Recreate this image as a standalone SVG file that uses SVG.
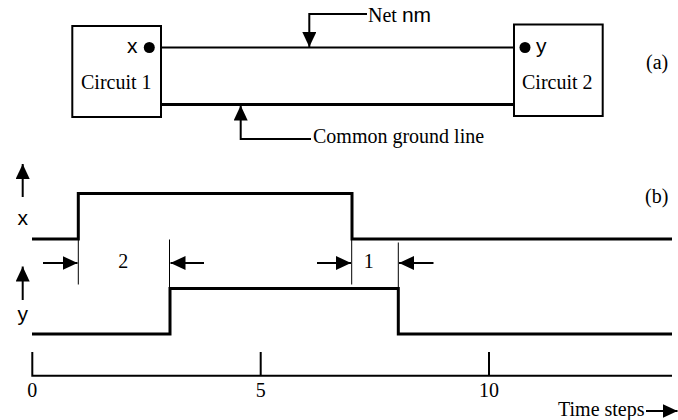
<svg xmlns="http://www.w3.org/2000/svg" width="678" height="420" viewBox="0 0 678 420">
<style>
.serif{font-family:"Liberation Serif","Times New Roman",serif;font-size:20px;fill:#000}
.sans{font-family:"Liberation Sans",Arial,sans-serif;font-size:21px;fill:#000}
.box{fill:#fff;stroke:#000;stroke-width:2}
.ln{fill:none;stroke:#000;stroke-width:2}
.sig{fill:none;stroke:#000;stroke-width:3;stroke-linejoin:miter}
.thin{fill:none;stroke:#000;stroke-width:1}
</style>
<defs>
<marker id="ah" viewBox="0 0 15 14" refX="15" refY="7" markerWidth="15" markerHeight="14" markerUnits="userSpaceOnUse" orient="auto">
<path d="M0,0 L15,7 L0,14 z" fill="#000"/>
</marker>
</defs>
<rect width="678" height="420" fill="#fff"/>
<g id="connectors">
<path class="ln" d="M149,47.5 H525"/>
<path d="M161,104.5 H514" fill="none" stroke="#000" stroke-width="3"/>
<path class="ln" d="M367,14 H309.3 V47" marker-end="url(#ah)"/>
<path class="ln" d="M311,139 H240.7 V105.5" marker-end="url(#ah)"/>
</g>
<g id="circuit1">
<rect class="box" x="72.3" y="26" width="88.7" height="91"/>
<circle cx="149.3" cy="47.5" r="5.5" fill="#000"/>
<text class="sans" x="137.5" y="53" text-anchor="end">x</text>
<text class="serif" x="81" y="89">Circuit 1</text>
</g>
<g id="circuit2">
<rect class="box" x="514" y="24.5" width="88.7" height="91.5"/>
<circle cx="525" cy="47.5" r="5.5" fill="#000"/>
<text class="sans" x="536" y="53">y</text>
<text class="serif" x="522" y="89">Circuit 2</text>
</g>
<g id="labels-a">
<text class="serif" x="368" y="22">Net <tspan class="sans" font-size="20">nm</tspan></text>
<text class="serif" x="313" y="143">Common ground line</text>
<text class="serif" x="646" y="69">(a)</text>
</g>
<g id="timing">
<path class="ln" d="M22.7,197 V164" marker-end="url(#ah)"/>
<path class="ln" d="M22.7,300 V266.5" marker-end="url(#ah)"/>
<text class="sans" x="22.7" y="225" text-anchor="middle">x</text>
<text class="sans" x="22.7" y="321" text-anchor="middle">y</text>
<path class="sig" d="M32,239 H78.3 V193.5 H352 V239 H672"/>
<path class="sig" d="M32,334 H170 V288.5 H398.3 V334 H672"/>
<path class="thin" d="M78.3,239 V284.5"/>
<path class="thin" d="M169.5,239.5 V288"/>
<path class="thin" d="M351.7,239 V284.5"/>
<path class="thin" d="M398.3,242.5 V288"/>
<path class="ln" d="M43,263 H77.5" marker-end="url(#ah)"/>
<path class="ln" d="M204,263 H170.5" marker-end="url(#ah)"/>
<path class="ln" d="M317,263 H351" marker-end="url(#ah)"/>
<path class="ln" d="M433.5,263 H399" marker-end="url(#ah)"/>
<text class="serif" x="123.3" y="268" text-anchor="middle">2</text>
<text class="serif" x="368.7" y="268" text-anchor="middle">1</text>
<text class="serif" x="645" y="203">(b)</text>
</g>
<g id="axis">
<path class="ln" d="M32.3,352 V375.7 H672"/>
<path class="ln" d="M260.7,352 V375.7"/>
<path class="ln" d="M489,352 V375.7"/>
<text class="serif" x="32.3" y="397" text-anchor="middle">0</text>
<text class="serif" x="260.7" y="397" text-anchor="middle">5</text>
<text class="serif" x="489" y="397" text-anchor="middle">10</text>
<text class="serif" x="558" y="416">Time steps</text>
<path class="ln" d="M646,411 H677.5" marker-end="url(#ah)"/>
</g>
</svg>
